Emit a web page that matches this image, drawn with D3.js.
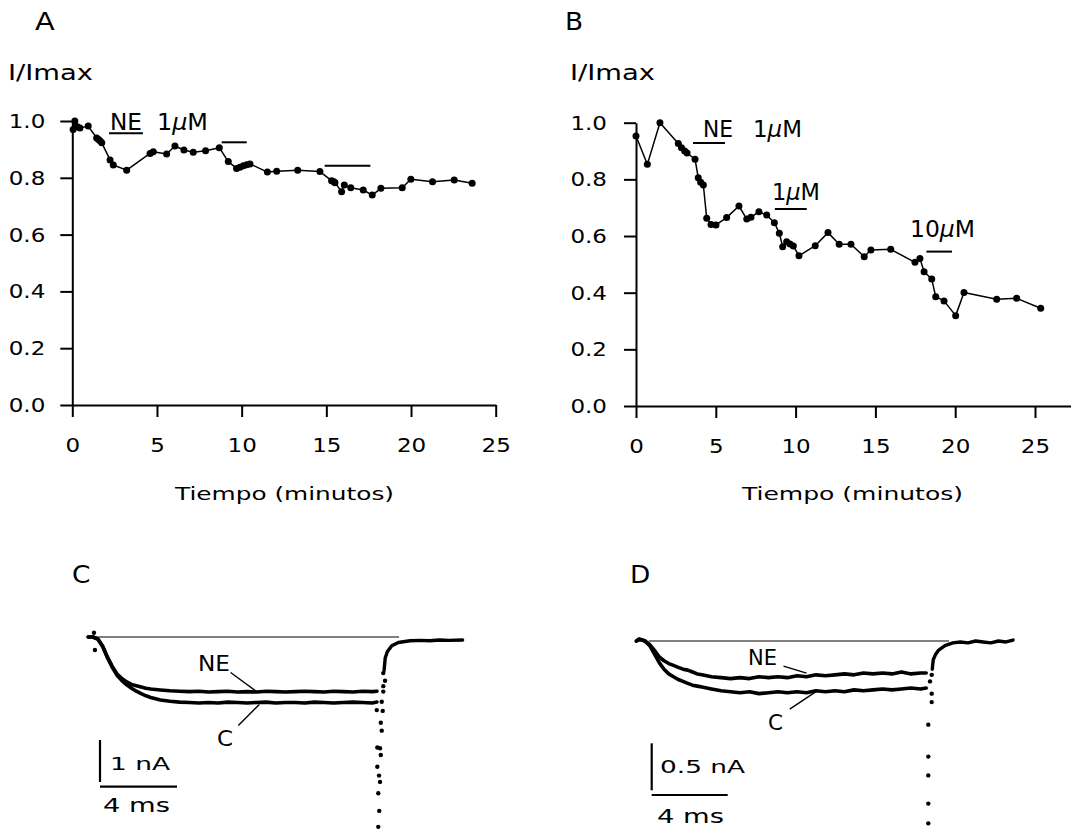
<!DOCTYPE html>
<html>
<head>
<meta charset="utf-8">
<script src="https://cdn.jsdelivr.net/npm/d3@7"></script>
<style>
  html, body { margin: 0; padding: 0; background: #fff; }
  svg { display: block; }
  text { font-family: "DejaVu Sans", sans-serif; fill: #000; }
</style>
</head>
<body>
<svg id="fig" width="1071" height="830"></svg>
<script>
// ---------- Time courses (I/Imax vs minutes) ----------
const timeTicks = [0, 5, 10, 15, 20, 25];
const ratioTicks = [0, 0.2, 0.4, 0.6, 0.8, 1.0];

// Panel A: NE 1 µM applied three times
const timeA = [0.05, 0.15, 0.3, 0.45, 0.94, 1.44, 1.55, 1.65, 1.74, 2.23, 2.42, 3.21, 4.59, 4.78, 5.57, 6.06, 6.59, 7.14, 7.87, 8.68, 9.21, 9.7, 9.9, 10.1, 10.3, 10.49, 11.52, 12.07, 13.31, 14.62, 15.31, 15.45, 15.51, 15.9, 16.06, 16.44, 17.18, 17.71, 18.22, 19.48, 19.99, 21.27, 22.55, 23.61];
const ratioA = [0.97, 1.0, 0.98, 0.975, 0.982, 0.94, 0.935, 0.93, 0.923, 0.863, 0.845, 0.827, 0.886, 0.892, 0.884, 0.912, 0.898, 0.89, 0.895, 0.906, 0.857, 0.833, 0.837, 0.842, 0.846, 0.849, 0.82, 0.823, 0.827, 0.822, 0.79, 0.786, 0.783, 0.751, 0.775, 0.765, 0.757, 0.739, 0.763, 0.765, 0.795, 0.786, 0.792, 0.781];
// application bars: start, end (min), height (I/Imax)
const barStartA = [2.17, 8.82, 14.9];
const barEndA = [4.17, 10.3, 17.6];
const barLevelA = [0.957, 0.925, 0.842];

// Panel B: NE 1 µM, 1 µM, 10 µM
const timeB = [0.0, 0.71, 1.5, 2.65, 2.85, 3.05, 3.2, 3.7, 3.9, 4.05, 4.22, 4.43, 4.7, 5.01, 5.68, 6.45, 6.94, 7.2, 7.7, 8.19, 8.67, 8.98, 9.19, 9.44, 9.65, 9.86, 10.21, 11.23, 12.03, 12.73, 13.47, 14.3, 14.72, 15.96, 17.48, 17.79, 18.05, 18.53, 18.78, 19.3, 20.03, 20.55, 22.6, 23.85, 25.36];
const ratioB = [0.953, 0.853, 1.0, 0.927, 0.912, 0.9, 0.893, 0.871, 0.806, 0.79, 0.78, 0.663, 0.641, 0.639, 0.665, 0.706, 0.66, 0.666, 0.686, 0.674, 0.647, 0.61, 0.562, 0.58, 0.572, 0.565, 0.53, 0.566, 0.612, 0.571, 0.571, 0.527, 0.551, 0.553, 0.507, 0.521, 0.474, 0.448, 0.386, 0.371, 0.319, 0.401, 0.377, 0.38, 0.345];
const barStartB = [3.57, 8.7, 18.2];
const barEndB = [5.58, 10.7, 19.8];
const barLevelB = [0.928, 0.695, 0.545];

// ---------- Current traces (ms, nA) ----------
const sweepTimeC = [-0.25, 0, 0.25, 0.5, 0.75, 1, 1.25, 1.5, 1.75, 2, 2.25, 2.5, 2.75, 3, 3.5, 4, 4.5, 5, 5.5, 6, 6.5, 7, 7.5, 8, 8.5, 9, 9.5, 10, 10.5, 11, 11.5, 12, 12.5, 13, 13.5, 14, 14.5, 14.75];
const neC = [0, 0, -0.05, -0.22, -0.48, -0.70, -0.88, -0.99, -1.07, -1.13, -1.16, -1.19, -1.22, -1.24, -1.26, -1.28, -1.29, -1.30, -1.29, -1.31, -1.30, -1.29, -1.31, -1.30, -1.31, -1.29, -1.30, -1.31, -1.30, -1.29, -1.30, -1.31, -1.29, -1.30, -1.31, -1.29, -1.30, -1.29];
const ctlC = [0, 0, -0.05, -0.22, -0.49, -0.72, -0.91, -1.04, -1.14, -1.22, -1.29, -1.35, -1.40, -1.44, -1.50, -1.53, -1.55, -1.56, -1.57, -1.56, -1.57, -1.55, -1.56, -1.57, -1.56, -1.55, -1.57, -1.56, -1.56, -1.57, -1.55, -1.56, -1.57, -1.56, -1.55, -1.56, -1.57, -1.55];
const tailTimeC = [14.74, 15.08, 15.17, 15.08, 15.08, 15.0, 15.05, 14.95, 15.0, 14.77, 14.91, 14.95, 14.77, 14.86, 14.91, 14.82, 14.87, 14.82, 0.1, 0.05];
const tailC = [-1.74, -0.86, -1.04, -1.17, -1.30, -1.54, -1.76, -2.04, -2.23, -2.63, -2.65, -2.81, -3.09, -3.30, -3.45, -3.72, -4.14, -4.52, -0.31, 0.1];
const recTimeC = [15.12, 15.15, 15.18, 15.29, 15.52, 15.86, 16.47, 17, 17.5, 18, 18.5, 19.2];
const recC = [-0.80, -0.65, -0.50, -0.35, -0.21, -0.13, -0.09, -0.08, -0.09, -0.07, -0.08, -0.07];

const sweepTimeD = [-0.45, -0.3, -0.15, 0, 0.25, 0.5, 0.75, 1, 1.25, 1.5, 1.75, 2, 2.25, 2.5, 2.75, 3, 3.5, 4, 4.5, 5, 5.5, 6, 6.5, 7, 7.5, 8, 8.5, 9, 9.5, 10, 10.5, 11, 11.5, 12, 12.5, 13, 13.5, 14, 14.5, 14.8];
const neD = [0, 0.02, 0.01, 0, -0.04, -0.10, -0.17, -0.21, -0.24, -0.26, -0.28, -0.30, -0.31, -0.33, -0.35, -0.36, -0.38, -0.39, -0.40, -0.39, -0.40, -0.38, -0.39, -0.38, -0.39, -0.37, -0.38, -0.36, -0.37, -0.36, -0.35, -0.36, -0.34, -0.35, -0.34, -0.35, -0.33, -0.35, -0.34, -0.34];
const ctlD = [0, 0.02, 0.01, 0, -0.05, -0.14, -0.23, -0.30, -0.35, -0.38, -0.41, -0.43, -0.45, -0.47, -0.48, -0.49, -0.51, -0.53, -0.54, -0.55, -0.54, -0.56, -0.55, -0.54, -0.55, -0.54, -0.55, -0.53, -0.54, -0.53, -0.54, -0.52, -0.53, -0.52, -0.51, -0.52, -0.51, -0.50, -0.51, -0.50];
const tailTimeD = [15.09, 15.0, 15.09, 15.09, 14.91, 14.91, 14.91, 14.91, 14.91];
const tailD = [-0.36, -0.43, -0.56, -0.65, -0.89, -1.23, -1.43, -1.73, -1.94];
const recTimeD = [15.12, 15.17, 15.3, 15.44, 15.79, 16.2, 16.6, 17, 17.4, 17.8, 18.2, 18.6, 19, 19.37];
const recD = [-0.30, -0.20, -0.14, -0.10, -0.05, -0.02, -0.01, -0.02, 0.0, -0.01, -0.02, 0.0, -0.01, 0.01];

const svg = d3.select("#fig");

// Horizontally widen a text to a target width (the lettering is a wide geometric face)
function fitWidth(sel, w) {
  sel.attr("textLength", w).attr("lengthAdjust", "spacingAndGlyphs");
  return sel;
}
function widen(sel, k) {
  sel.each(function () {
    const w = this.getComputedTextLength();
    this.setAttribute("textLength", w * k);
    this.setAttribute("lengthAdjust", "spacingAndGlyphs");
  });
  return sel;
}
function label(x, y, str, size, anchor) {
  return svg.append("text").attr("x", x).attr("y", y)
    .attr("font-size", size).attr("text-anchor", anchor || "start").text(str);
}
function concLabel(x, y, num, size) {
  const t = svg.append("text").attr("x", x).attr("y", y).attr("font-size", size);
  t.append("tspan").text(num);
  t.append("tspan").attr("font-style", "italic").text("\u03bc");
  t.append("tspan").text("M");
  return t;
}

// ---------- time-course panel ----------
function timeCourse(cfg) {
  const x = cfg.x, y = cfg.y;
  const gx = svg.append("g").attr("transform", `translate(0,${y(0)})`)
    .call(d3.axisBottom(x).tickValues(timeTicks).tickSize(12).tickSizeOuter(0)
      .tickPadding(21).tickFormat(d3.format("d")));
  const gy = svg.append("g").attr("transform", `translate(${x(0)},0)`)
    .call(d3.axisLeft(y).tickValues(ratioTicks).tickSize(12).tickSizeOuter(0)
      .tickPadding(cfg.yPad).tickFormat(d3.format(".1f")));
  [gx, gy].forEach(g => {
    g.attr("font-family", null).attr("font-size", null);
    g.select(".domain").attr("stroke", "#000").attr("stroke-width", 2);
    g.selectAll(".tick line").attr("stroke", "#000").attr("stroke-width", 2);
    g.selectAll(".tick text").attr("font-size", 20).attr("fill", "#000");
    widen(g.selectAll(".tick text"), 1.15);
  });

  const pts = d3.zip(cfg.t, cfg.v).map(([t, v]) => ({ t, v }));
  svg.append("path").datum(pts)
    .attr("fill", "none").attr("stroke", "#000").attr("stroke-width", 1.5)
    .attr("stroke-linejoin", "round")
    .attr("d", d3.line().x(d => x(d.t)).y(d => y(d.v)));
  svg.append("g").selectAll("circle").data(pts).join("circle")
    .attr("cx", d => x(d.t)).attr("cy", d => y(d.v)).attr("r", 3.5).attr("fill", "#000");

  const bars = d3.zip(cfg.bs, cfg.be, cfg.bl);
  svg.append("g").selectAll("line").data(bars).join("line")
    .attr("x1", d => x(d[0])).attr("x2", d => x(d[1]))
    .attr("y1", d => y(d[2])).attr("y2", d => y(d[2]))
    .attr("stroke", "#000").attr("stroke-width", 2);
}

const xA = d3.scaleLinear().domain([0, 25]).range([72.3, 495.7]);
const yA = d3.scaleLinear().domain([0, 1]).range([405, 121]);
const xB = d3.scaleLinear().domain([0, 27.3]).range([636, 1071.7]);
const yB = d3.scaleLinear().domain([0, 1]).range([406, 122.7]);

timeCourse({ x: xA, y: yA, t: timeA, v: ratioA, bs: barStartA, be: barEndA, bl: barLevelA, yPad: 15 });
timeCourse({ x: xB, y: yB, t: timeB, v: ratioB, bs: barStartB, be: barEndB, bl: barLevelB, yPad: 17 });

// headings and axis titles
widen(label(35, 30, "A", 24), 1.2);
widen(label(565, 30, "B", 24), 1.1);
fitWidth(label(8, 80, "I/Imax", 20.5), 85);
fitWidth(label(570, 80, "I/Imax", 20.5), 85);
fitWidth(label(284.5, 500, "Tiempo (minutos)", 18, "middle"), 219);
fitWidth(label(852.5, 500, "Tiempo (minutos)", 18, "middle"), 221);

// drug labels
fitWidth(label(110, 130, "NE", 23), 32);
fitWidth(concLabel(157, 130, "1", 23), 51);
fitWidth(label(703, 137, "NE", 23), 30);
fitWidth(concLabel(753, 137, "1", 23), 49);
fitWidth(concLabel(772, 200, "1", 23), 48);
fitWidth(concLabel(910, 237, "10", 23), 65);

// ---------- current-trace panel ----------
function tracePanel(cfg) {
  const x = cfg.x, y = cfg.y;
  const line = d3.line().x(d => x(d[0])).y(d => y(d[1])).curve(d3.curveLinear);

  // zero-current reference
  svg.append("line").attr("x1", x(cfg.base[0])).attr("x2", x(cfg.base[1]))
    .attr("y1", y(0)).attr("y2", y(0)).attr("stroke", "#000").attr("stroke-width", 1.2);

  [cfg.ne, cfg.ctl].forEach(vals => {
    svg.append("path").datum(d3.zip(cfg.t, vals))
      .attr("fill", "none").attr("stroke", "#000").attr("stroke-width", 3.6)
      .attr("stroke-linejoin", "round").attr("stroke-linecap", "round")
      .attr("d", line);
  });
  svg.append("path").datum(d3.zip(cfg.recT, cfg.rec))
    .attr("fill", "none").attr("stroke", "#000").attr("stroke-width", 3.4)
    .attr("stroke-linejoin", "round").attr("stroke-linecap", "round")
    .attr("d", line);
  svg.append("g").selectAll("circle").data(d3.zip(cfg.tailT, cfg.tail)).join("circle")
    .attr("cx", d => x(d[0])).attr("cy", d => y(d[1])).attr("r", 2.2).attr("fill", "#000");

  // scale bars
  const sb = cfg.scale;
  const vLen = y(-sb.nA) - y(0);
  const hLen = x(sb.ms) - x(0);
  svg.append("line").attr("x1", sb.x).attr("x2", sb.x).attr("y1", sb.y).attr("y2", sb.y + vLen)
    .attr("stroke", "#000").attr("stroke-width", 2.2);
  svg.append("line").attr("x1", sb.x).attr("x2", sb.x + hLen).attr("y1", sb.hy).attr("y2", sb.hy)
    .attr("stroke", "#000").attr("stroke-width", 2.2);

  // leader lines from labels to traces
  const ne = cfg.leaderNE, c = cfg.leaderC;
  const neY = y(d3.mean(cfg.ne.slice(-8)));
  const cY = y(d3.mean(cfg.ctl.slice(-8)));
  svg.append("line").attr("x1", x(ne.t) + ne.dx).attr("y1", neY + ne.dy)
    .attr("x2", x(ne.t)).attr("y2", neY).attr("stroke", "#000").attr("stroke-width", 1.4);
  svg.append("line").attr("x1", x(c.t) + c.dx).attr("y1", cY + c.dy)
    .attr("x2", x(c.t)).attr("y2", cY + 2).attr("stroke", "#000").attr("stroke-width", 1.4);
}

const xC = d3.scaleLinear().domain([0, 4]).range([93, 170]);
const yC = d3.scaleLinear().domain([0, -1]).range([637, 679]);
const xD = d3.scaleLinear().domain([0, 4]).range([645, 721]);
const yD = d3.scaleLinear().domain([0, -0.5]).range([641, 688]);

tracePanel({
  x: xC, y: yC, t: sweepTimeC, ne: neC, ctl: ctlC, recT: recTimeC, rec: recC,
  tailT: tailTimeC, tail: tailC, base: [0, 15.9],
  scale: { nA: 1, ms: 4, x: 100, y: 740, hy: 786.7 },
  leaderNE: { t: 8.5, dx: -26, dy: -19 }, leaderC: { t: 8.64, dx: -21, dy: 23 }
});
tracePanel({
  x: xD, y: yD, t: sweepTimeD, ne: neD, ctl: ctlD, recT: recTimeD, rec: recD,
  tailT: tailTimeD, tail: tailD, base: [0.2, 16],
  scale: { nA: 0.5, ms: 4, x: 651.7, y: 743.3, hy: 795 },
  leaderNE: { t: 8.5, dx: -23, dy: -7 }, leaderC: { t: 9.04, dx: -27, dy: 20 }
});

widen(label(72, 583, "C", 24), 1.1);
widen(label(630, 583, "D", 24), 1.1);
fitWidth(label(198, 671, "NE", 21.5), 32);
fitWidth(label(217, 746, "C", 22), 16);
fitWidth(label(110, 770, "1  nA", 18.5), 60);
fitWidth(label(103, 811.5, "4  ms", 19), 67);
fitWidth(label(748, 665, "NE", 21.5), 29);
fitWidth(label(768, 730, "C", 22), 15);
fitWidth(label(660, 773, "0.5  nA", 18.5), 85);
fitWidth(label(657, 823, "4  ms", 19), 67);
</script>
</body>
</html>
